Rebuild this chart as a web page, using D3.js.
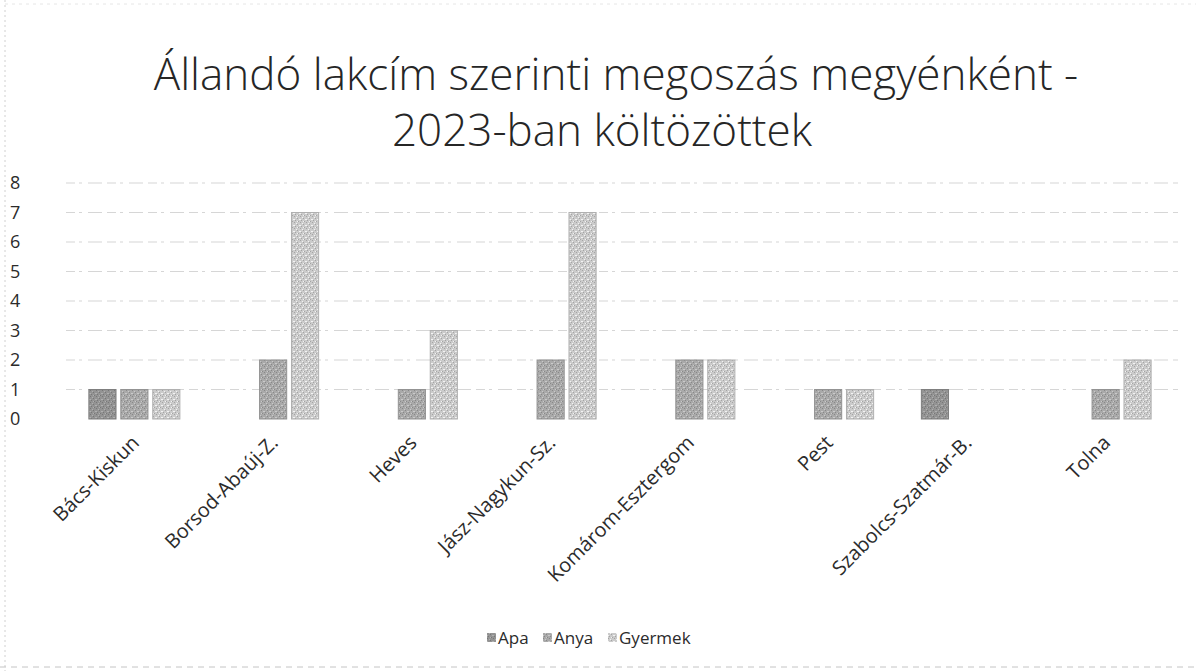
<!DOCTYPE html>
<html>
<head>
<meta charset="utf-8">
<script src="https://cdn.jsdelivr.net/npm/d3@7"></script>
<style>
  body { margin: 0; background: #fff; }
  text { font-family: "Open Sans", "Noto Sans", sans-serif; }
</style>
</head>
<body>
<div id="chart"></div>
<script>
// data
var counties = ["Bács-Kiskun", "Borsod-Abaúj-Z.", "Heves", "Jász-Nagykun-Sz.",
                "Komárom-Esztergom", "Pest", "Szabolcs-Szatmár-B.", "Tolna"];
var seriesNames = ["Apa", "Anya", "Gyermek"];
var apa     = [1, 0, 0, 0, 0, 0, 1, 0];
var anya    = [1, 2, 1, 2, 2, 1, 0, 1];
var gyermek = [1, 7, 3, 7, 2, 1, 0, 2];
var yTicks = [0, 1, 2, 3, 4, 5, 6, 7, 8];
var titleLines = ["Állandó lakcím szerinti megoszás megyénként -", "2023-ban költözöttek"];

var values = [apa, anya, gyermek];
var colors = ["#939393", "#a9a9a9", "#cbcbcb"];

var width = 1196, height = 671;
var margin = { left: 65, right: 21, top: 183, bottom: 252 };

var svg = d3.select("#chart").append("svg")
    .attr("width", width)
    .attr("height", height);

// scan-like texture for the bars
var defs = svg.append("defs");
colors.forEach(function (c, i) {
    var p = defs.append("pattern")
        .attr("id", "tex" + i)
        .attr("width", 6).attr("height", 6)
        .attr("patternUnits", "userSpaceOnUse");
    p.append("rect").attr("width", 6).attr("height", 6).attr("fill", c);
    var dark = d3.color(c).darker(0.6), light = d3.color(c).brighter(0.5);
    [[0, 0], [3, 2], [1, 4], [4, 5]].forEach(function (q) {
        p.append("rect").attr("x", q[0]).attr("y", q[1]).attr("width", 1).attr("height", 1).attr("fill", dark);
    });
    [[2, 1], [5, 3], [0, 3], [3, 5]].forEach(function (q) {
        p.append("rect").attr("x", q[0]).attr("y", q[1]).attr("width", 1).attr("height", 1).attr("fill", light);
    });
});

// faint scan border
svg.append("line").attr("x1", 5).attr("x2", 5).attr("y1", 0).attr("y2", height)
    .attr("stroke", "#d0d0d0").attr("stroke-dasharray", "2,3");
svg.append("line").attr("x1", 5).attr("x2", width).attr("y1", 4).attr("y2", 4)
    .attr("stroke", "#e6e6e6").attr("stroke-dasharray", "3,4");
svg.append("line").attr("x1", 0).attr("x2", width).attr("y1", 667).attr("y2", 667)
    .attr("stroke", "#c4c4c4").attr("stroke-dasharray", "6,5");

// title
var titlePos = [{ x: 616, y: 90 }, { x: 602, y: 146 }];
svg.append("g").selectAll("text").data(titleLines).enter().append("text")
    .attr("x", function (d, i) { return titlePos[i].x; })
    .attr("y", function (d, i) { return titlePos[i].y; })
    .attr("text-anchor", "middle")
    .attr("font-size", 44)
    .attr("font-weight", 300)
    .attr("fill", "#262626")
    .text(function (d) { return d; });

var x0 = d3.scaleBand()
    .domain(counties)
    .range([margin.left, width - margin.right])
    .padding(0);

var groupW = 91;
var x1 = d3.scaleBand()
    .domain(seriesNames)
    .range([0, groupW])
    .paddingInner(0.15);

var y = d3.scaleLinear()
    .domain([0, 8])
    .range([height - margin.bottom, margin.top]);

// gridlines
svg.append("g").selectAll("line").data(yTicks.slice(1)).enter().append("line")
    .attr("x1", 66).attr("x2", width - 18)
    .attr("y1", function (d) { return y(d); })
    .attr("y2", function (d) { return y(d); })
    .attr("stroke", "#d6d6d6")
    .attr("stroke-width", 1.2)
    .attr("stroke-dasharray", "9,4,3,6,14,5");

// y axis labels
var yAxis = d3.axisLeft(y).tickValues(yTicks).tickSize(0).tickPadding(0);
var yg = svg.append("g")
    .attr("transform", "translate(" + 10 + ",0)")
    .call(yAxis);
yg.select(".domain").remove();
yg.selectAll("text")
    .attr("text-anchor", "start")
    .attr("font-size", 18)
    .attr("fill", "#2b2b2b");

// bars
var rows = [];
counties.forEach(function (c, i) {
    seriesNames.forEach(function (s, j) {
        if (values[j][i] > 0) rows.push({ county: c, series: s, value: values[j][i], k: j });
    });
});

var offset = (x0.bandwidth() - groupW) / 2;
svg.append("g").selectAll("rect").data(rows).enter().append("rect")
    .attr("x", function (d) { return x0(d.county) + offset + x1(d.series); })
    .attr("y", function (d) { return y(d.value); })
    .attr("width", x1.bandwidth())
    .attr("height", function (d) { return y(0) - y(d.value); })
    .attr("fill", function (d) { return "url(#tex" + d.k + ")"; })
    .attr("stroke", function (d) { return d3.color(colors[d.k]).darker(0.4); })
    .attr("stroke-width", 1);

// x axis labels, rotated
var xAxis = d3.axisBottom(x0).tickSize(0).tickPadding(0);
var xg = svg.append("g")
    .attr("transform", "translate(0," + y(0) + ")")
    .call(xAxis);
xg.select(".domain").remove();
xg.selectAll("text")
    .attr("font-size", 20)
    .attr("fill", "#2b2b2b")
    .attr("text-anchor", "end")
    .attr("dy", 0)
    .attr("transform", "translate(6,25) rotate(-45)");

// legend
var legend = svg.append("g").attr("transform", "translate(487,638)");
var lx = [0, 56, 121];
seriesNames.forEach(function (s, i) {
    var item = legend.append("g").attr("transform", "translate(" + lx[i] + ",0)");
    item.append("rect")
        .attr("x", 0).attr("y", -5).attr("width", 9).attr("height", 9)
        .attr("fill", "url(#tex" + i + ")");
    item.append("text")
        .attr("x", 11).attr("y", 0).attr("dy", "0.35em")
        .attr("font-size", 17).attr("fill", "#2b2b2b")
        .text(s);
});
</script>
</body>
</html>
